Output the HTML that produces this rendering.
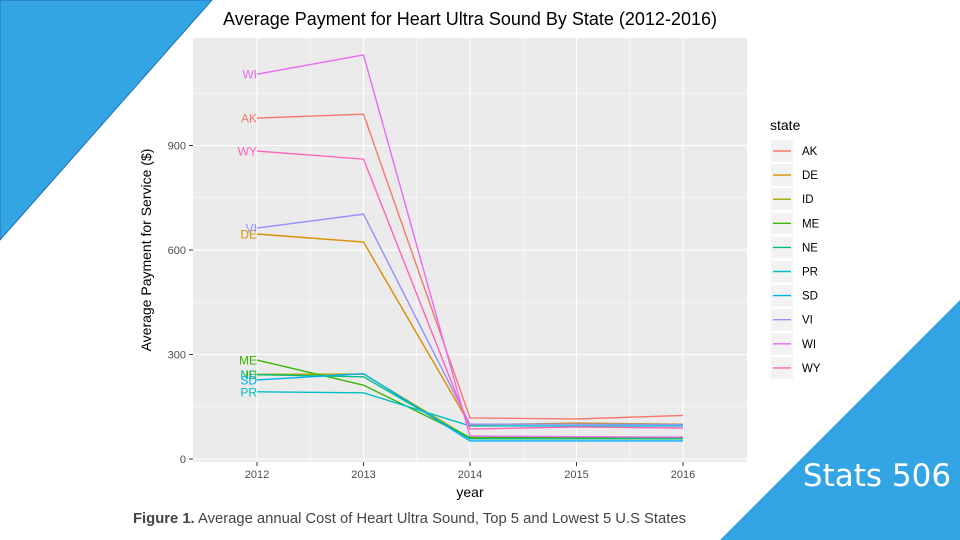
<!DOCTYPE html>
<html><head><meta charset="utf-8">
<style>
body{margin:0;width:960px;height:540px;background:#fff;overflow:hidden;font-family:"Liberation Sans",Arial,sans-serif;position:relative}
svg{position:absolute;left:0;top:0}
</style></head>
<body>
<svg id="chart" width="960" height="540">
  <polygon points="0,0 212,0 0,240" fill="#33a4e4" stroke="#1d6fb0" stroke-width="1"/>
  <polygon points="960,300 960,540 720,540" fill="#33a4e4"/>
  <text x="877" y="486" font-size="31" fill="#fff" text-anchor="middle" font-family="'DejaVu Sans','Liberation Sans',sans-serif">Stats 506</text>
  <text x="470" y="25" font-size="18" fill="#000" text-anchor="middle">Average Payment for Heart Ultra Sound By State (2012-2016)</text>
  <rect x="193" y="38" width="554" height="424" fill="#ebebeb"/>
  <g id="grid"></g>
  <g id="lines"></g>
  <g id="axes"></g>
  <text x="470" y="497" font-size="14" text-anchor="middle" fill="#000">year</text>
  <text transform="translate(151,250) rotate(-90)" font-size="14" text-anchor="middle" fill="#000">Average Payment for Service ($)</text>
  <text x="770" y="130" font-size="14" fill="#000">state</text>
  <g id="legend"></g>
  <text x="133" y="523" font-size="14.8" fill="#444"><tspan font-weight="bold">Figure 1.</tspan> Average annual Cost of Heart Ultra Sound, Top 5 and Lowest 5 U.S States</text>
</svg>
<script>
const years = [2012, 2013, 2014, 2015, 2016];
const states = ["AK","DE","ID","ME","NE","PR","SD","VI","WI","WY"];
const colors = ["#F8766D","#D89000","#A3A500","#39B600","#00BF7D","#00BFC4","#00B0F6","#9590FF","#E76BF3","#FF62BC"];
const AK = [979, 990, 118, 115, 125];
const DE = [646, 623, 98, 103, 100];
const ID = [243, 244, 60, 60, 60];
const ME = [284, 212, 62, 62, 62];
const NE = [242, 236, 58, 58, 58];
const PR = [193, 190, 95, 95, 95];
const SD = [227, 245, 52, 52, 52];
const VI = [663, 703, 100, 100, 99];
const WI = [1105, 1160, 66, 64, 63];
const WY = [884, 861, 86, 92, 89];
const series = [AK, DE, ID, ME, NE, PR, SD, VI, WI, WY];
const yTicks = [0, 300, 600, 900];

const NS = "http://www.w3.org/2000/svg";
const xS = y => 257 + (y - 2012) * 106.5;
const yS = v => 459 - v * 0.3483;
function mk(tag, attrs, parent){const e=document.createElementNS(NS,tag);for(const k in attrs)e.setAttribute(k,attrs[k]);parent.appendChild(e);return e;}
const grid = document.getElementById('grid'), lines = document.getElementById('lines'), axes = document.getElementById('axes'), legend = document.getElementById('legend');

for (let i = 0; i < yTicks.length; i++) {
  const v = yTicks[i];
  const g = mk('line', {x1:193, x2:747, y1:yS(v), y2:yS(v), stroke:'#fff', 'stroke-width':1.1}, grid);
  
  
  const mv = v + 150;
  if (yS(mv) > 38) {
    const m = mk('line', {x1:193, x2:747, y1:yS(mv), y2:yS(mv), stroke:'#fff', 'stroke-width':0.5}, grid);
    
    
  }
  const t = mk('line', {x1:189, x2:193, y1:yS(v), y2:yS(v), stroke:'#333'}, axes);
  
  
  const l = mk('text', {x:186, y:yS(v)+4, 'font-size':11, fill:'#4d4d4d', 'text-anchor':'end'}, axes);
  l.textContent = v;
  
  
}
for (let i = 0; i < years.length; i++) {
  const x = xS(years[i]);
  const g = mk('line', {x1:x, x2:x, y1:38, y2:462, stroke:'#fff', 'stroke-width':1.1}, grid);
  
  
  if (i < years.length - 1) {
    const m = mk('line', {x1:x+53.25, x2:x+53.25, y1:38, y2:462, stroke:'#fff', 'stroke-width':0.5}, grid);
    
    
  }
  const t = mk('line', {x1:x, x2:x, y1:462, y2:466, stroke:'#333'}, axes);
  
  
  const l = mk('text', {x:x, y:478, 'font-size':11, fill:'#4d4d4d', 'text-anchor':'middle'}, axes);
  l.textContent = years[i];
  
  
}
for (let s = 0; s < states.length; s++) {
  const d = series[s];
  const pts = d.map((v, i) => xS(years[i]) + ',' + yS(v)).join(' ');
  const p = mk('polyline', {points:pts, fill:'none', stroke:colors[s], 'stroke-width':1.4}, lines);
  
  
  const lab = mk('text', {x:xS(years[0]), y:yS(d[0])+4.5, 'font-size':12, fill:colors[s], 'text-anchor':'end'}, lines);
  lab.textContent = states[s];
  
  
  const ky = 140 + s * 24.1;
  const k = mk('rect', {x:771, y:ky, width:22, height:22, fill:'#f2f2f2'}, legend);
  
  
  const kl = mk('line', {x1:773, x2:791, y1:ky+11, y2:ky+11, stroke:colors[s], 'stroke-width':1.4}, legend);
  
  
  const kt = mk('text', {x:802, y:ky+15, 'font-size':11.5, fill:'#000'}, legend);
  kt.textContent = states[s];
  
  
}
</script>
</body></html>
